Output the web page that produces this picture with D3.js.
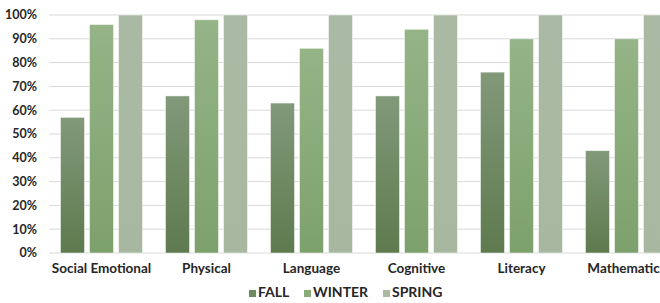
<!DOCTYPE html>
<html>
<head>
<meta charset="utf-8">
<script src="https://cdn.jsdelivr.net/npm/d3@7"></script>
<style>
  body { margin: 0; background: #fff; overflow: hidden; }
  text { font-family: Lato, "DejaVu Sans", sans-serif; font-weight: bold; fill: #262626; }
</style>
</head>
<body>
<div id="chart"></div>
<script>
// Chart data
const domains = ["Social Emotional", "Physical", "Language", "Cognitive", "Literacy", "Mathematics"];
const seasons = ["FALL", "WINTER", "SPRING"];
const fall = [57, 66, 63, 66, 76, 43];
const winter = [96, 98, 86, 94, 90, 90];
const spring = [100, 100, 100, 100, 100, 100];
const yTicks = [0, 10, 20, 30, 40, 50, 60, 70, 80, 90, 100];

const canvW = 660, canvH = 303;
const margin = {top: 15, left: 49, bottom: 50};
const plotRight = 679; // chart is cropped on the right in the original

const svg = d3.select('#chart')
    .append('svg')
    .attr('width', canvW)
    .attr('height', canvH);

const defs = svg.append('defs');
// vertical gradients, lighter on top
const gradients = [
    {id: 'gFall', top: '#82997a', bottom: '#5e7a4e'},
    {id: 'gWinter', top: '#95b487', bottom: '#7da16c'},
    {id: 'gSpring', top: '#aab9a3', bottom: '#a8b8a0'}
];
gradients.forEach(g => {
    const lg = defs.append('linearGradient')
        .attr('id', g.id)
        .attr('x1', 0).attr('y1', 0).attr('x2', 0).attr('y2', 1);
    lg.append('stop').attr('offset', '0%').attr('stop-color', g.top);
    lg.append('stop').attr('offset', '100%').attr('stop-color', g.bottom);
});
const legendColors = ['#6e8a60', '#88aa78', '#aab9a3'];

const x = d3.scaleBand()
    .domain(domains)
    .range([margin.left, plotRight]);

const y = d3.scaleLinear()
    .domain([0, 100])
    .range([canvH - margin.bottom, margin.top]);

// gridlines
svg.append('g')
    .selectAll('line')
    .data(yTicks)
    .join('line')
    .attr('x1', margin.left)
    .attr('x2', plotRight)
    .attr('y1', d => y(d))
    .attr('y2', d => y(d))
    .attr('stroke', '#d9d9d9')
    .attr('stroke-width', 1);

// y axis labels
svg.append('g')
    .selectAll('text')
    .data(yTicks)
    .join('text')
    .attr('x', 37)
    .attr('y', d => y(d))
    .attr('dy', '0.35em')
    .attr('text-anchor', 'end')
    .attr('font-size', 12.5)
    .text(d => d + '%');

// bars
const barW = 24, barGap = 5;
const series = [fall, winter, spring];
const x1 = d3.scaleBand()
    .domain(seasons)
    .range([0, barW * 3 + barGap * 2])
    .paddingInner(barGap / (barW + barGap));

const groups = svg.append('g')
    .selectAll('g')
    .data(domains)
    .join('g')
    .attr('transform', d => `translate(${x(d) + (x.bandwidth() - x1.range()[1]) / 2},0)`);

groups.selectAll('rect')
    .data((d, i) => seasons.map((s, k) => ({season: s, value: series[k][i], k: k})))
    .join('rect')
    .attr('x', d => x1(d.season))
    .attr('y', d => y(d.value))
    .attr('width', x1.bandwidth())
    .attr('height', d => y(0) - y(d.value))
    .attr('fill', d => `url(#${gradients[d.k].id})`)
    .attr('stroke', 'rgba(255,255,255,0.6)')
    .attr('stroke-width', 0.8);

// category labels
svg.append('g')
    .selectAll('text')
    .data(domains)
    .join('text')
    .attr('x', d => x(d) + x.bandwidth() / 2)
    .attr('y', y(0) + 20)
    .attr('text-anchor', 'middle')
    .attr('font-size', 13.5)
    .text(d => d);

// legend
const legendX = [249, 304, 383];
const legend = svg.append('g')
    .selectAll('g')
    .data(seasons)
    .join('g')
    .attr('transform', (d, i) => `translate(${legendX[i]},${canvH - 6})`);

legend.append('rect')
    .attr('x', 0)
    .attr('y', -7)
    .attr('width', 7)
    .attr('height', 7)
    .attr('fill', (d, i) => legendColors[i]);

legend.append('text')
    .attr('x', 9)
    .attr('y', 0)
    .attr('font-size', 14)
    .text(d => d);
</script>
</body>
</html>
